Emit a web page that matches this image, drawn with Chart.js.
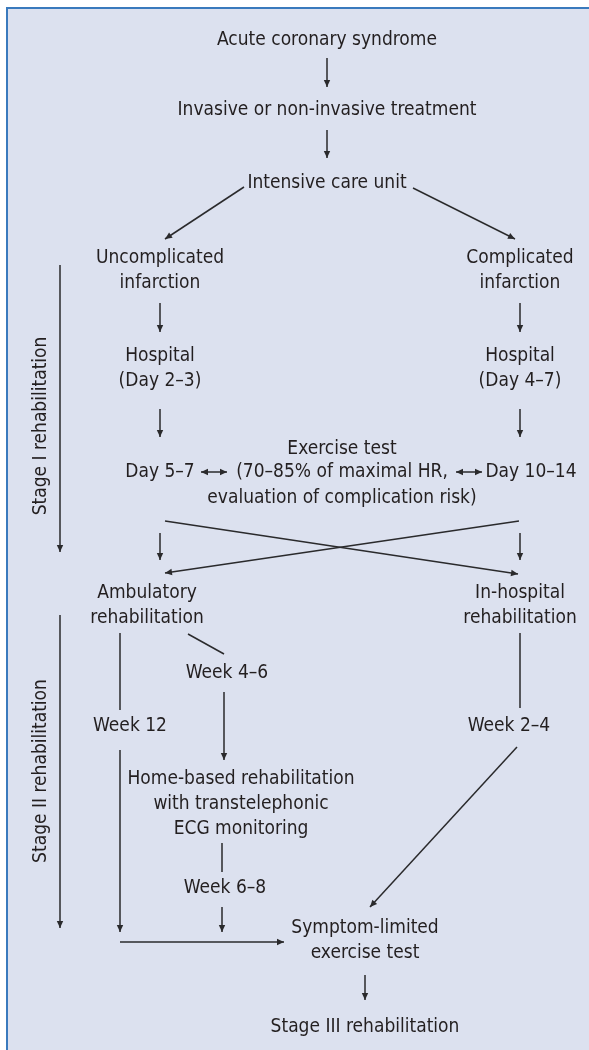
<!DOCTYPE html>
<html>
<head>
<meta charset="utf-8">
<script src="https://cdn.jsdelivr.net/npm/chart.js@4/dist/chart.umd.min.js"></script>
<style>
html,body{margin:0;padding:0;background:#ffffff;}
#wrap{width:589px;height:1050px;}
</style>
</head>
<body>
<div id="wrap"><canvas id="c" width="589" height="1050"></canvas></div>
<script>
// ---- Flowchart content (text nodes: label, centre x, first-line y) ----
const nodeLabels = [
  "Acute coronary syndrome",
  "Invasive or non-invasive treatment",
  "Intensive care unit",
  "Uncomplicated\ninfarction",
  "Complicated\ninfarction",
  "Hospital\n(Day 2–3)",
  "Hospital\n(Day 4–7)",
  "Exercise test",
  "Day 5–7",
  "(70–85% of maximal HR,",
  "Day 10–14",
  "evaluation of complication risk)",
  "Ambulatory\nrehabilitation",
  "In-hospital\nrehabilitation",
  "Week 4–6",
  "Week 12",
  "Week 2–4",
  "Home-based rehabilitation\nwith transtelephonic\nECG monitoring",
  "Week 6–8",
  "Symptom-limited\nexercise test",
  "Stage III rehabilitation"
];
const nodeX = [327, 327, 327, 160, 520, 160, 520, 342, 160, 342, 531, 342, 147, 520, 227, 130, 509, 241, 225, 365, 365];
const nodeY = [40, 110, 183, 258, 258, 356, 356, 449, 472, 472, 472, 498, 593, 593, 673, 726, 726, 779, 888, 928, 1027];

// ---- vertical stage labels ----
const stageLabels = ["Stage I rehabilitation", "Stage II rehabilitation"];
const stageX = [41, 41];
const stageY = [426, 771];

// ---- connectors: start point, end point, arrowhead type (0 none, 1 end, 2 both) ----
const edgeX1 = [327, 327, 244, 413, 160, 520, 160, 520, 201, 456, 60, 160, 520, 165, 519, 60, 120, 188, 224, 520, 120, 517, 222, 222, 120, 365];
const edgeY1 = [58, 130, 187, 188, 303, 303, 409, 409, 472, 472, 265, 533, 533, 521, 521, 615, 633, 634, 692, 633, 750, 747, 843, 907, 942, 975];
const edgeX2 = [327, 327, 165, 515, 160, 520, 160, 520, 227, 482, 60, 160, 520, 518, 165, 60, 120, 224, 224, 520, 120, 370, 222, 222, 284, 365];
const edgeY2 = [87, 158, 239, 239, 332, 332, 437, 437, 472, 472, 552, 560, 560, 574, 573, 928, 710, 654, 760, 708, 932, 907, 872, 932, 942, 1000];
const edgeHead = [1, 1, 1, 1, 1, 1, 1, 1, 2, 2, 1, 1, 1, 1, 1, 1, 0, 0, 1, 0, 1, 1, 0, 1, 1, 1];

const INK = '#231f20';
const LINE_INK = '#2a2a2c';
const FONT = '19px "Liberation Sans Narrow", "DejaVu Sans Condensed", "Liberation Sans", sans-serif';
const LINE_GAP = 25;

const datasets = edgeX1.map((x1, i) => ({
  data: [{x: x1, y: edgeY1[i]}, {x: edgeX2[i], y: edgeY2[i]}],
  showLine: true,
  borderColor: LINE_INK,
  borderWidth: 1.5,
  pointRadius: 0,
  fill: false,
  head: edgeHead[i]
}));

function arrowHead(ctx, fx, fy, tx, ty) {
  const a = Math.atan2(ty - fy, tx - fx);
  const len = 7, half = 3.2;
  ctx.save();
  ctx.translate(tx, ty);
  ctx.rotate(a);
  ctx.beginPath();
  ctx.moveTo(0, 0);
  ctx.lineTo(-len, -half);
  ctx.lineTo(-len, half);
  ctx.closePath();
  ctx.fillStyle = LINE_INK;
  ctx.fill();
  ctx.restore();
}

const flowPlugin = {
  id: 'flow',
  beforeDraw(chart) {
    const ctx = chart.ctx, xs = chart.scales.x, ys = chart.scales.y;
    const l = xs.getPixelForValue(7), t = ys.getPixelForValue(8);
    const r = xs.getPixelForValue(589), b = ys.getPixelForValue(1050);
    ctx.save();
    ctx.fillStyle = '#dce1ef';
    ctx.fillRect(l, t, r - l, b - t);
    ctx.strokeStyle = '#3a7abd';
    ctx.lineWidth = 2;
    ctx.beginPath();
    ctx.moveTo(l, b); ctx.lineTo(l, t); ctx.lineTo(r, t);
    ctx.stroke();
    ctx.restore();
  },
  afterDatasetsDraw(chart) {
    const ctx = chart.ctx, xs = chart.scales.x, ys = chart.scales.y;
    chart.data.datasets.forEach((ds, i) => {
      const m = chart.getDatasetMeta(i);
      const p0 = m.data[0], p1 = m.data[1];
      if (ds.head >= 1) arrowHead(ctx, p0.x, p0.y, p1.x, p1.y);
      if (ds.head === 2) arrowHead(ctx, p1.x, p1.y, p0.x, p0.y);
    });
    ctx.save();
    ctx.fillStyle = INK;
    ctx.font = FONT;
    ctx.textAlign = 'center';
    ctx.textBaseline = 'middle';
    nodeLabels.forEach((lab, i) => {
      lab.split('\n').forEach((line, k) => {
        ctx.fillText(line, xs.getPixelForValue(nodeX[i]), ys.getPixelForValue(nodeY[i]) + k * LINE_GAP);
      });
    });
    stageLabels.forEach((lab, i) => {
      ctx.save();
      ctx.translate(xs.getPixelForValue(stageX[i]), ys.getPixelForValue(stageY[i]));
      ctx.rotate(-Math.PI / 2);
      ctx.fillText(lab, 0, 0);
      ctx.restore();
    });
    ctx.restore();
  }
};

new Chart(document.getElementById('c'), {
  type: 'scatter',
  data: { datasets },
  options: {
    responsive: false,
    devicePixelRatio: 1,
    animation: false,
    layout: { padding: 0 },
    plugins: { legend: { display: false }, tooltip: { enabled: false } },
    scales: {
      x: { type: 'linear', min: 0, max: 589, display: false },
      y: { type: 'linear', min: 0, max: 1050, reverse: true, display: false }
    }
  },
  plugins: [flowPlugin]
});
</script>
</body>
</html>
